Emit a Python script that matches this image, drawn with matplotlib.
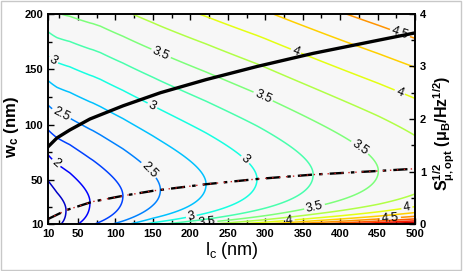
import numpy as np
import matplotlib
matplotlib.use("Agg")
import matplotlib.pyplot as plt
from matplotlib.patches import Rectangle
from matplotlib.colors import Normalize

plt.rcParams['font.family'] = ['Liberation Sans', 'DejaVu Sans']
plt.rcParams['mathtext.fontset'] = 'custom'
plt.rcParams['mathtext.rm'] = 'Liberation Sans'
plt.rcParams['mathtext.bf'] = 'Liberation Sans:bold'
plt.rcParams['mathtext.it'] = 'Liberation Sans:italic'

# optimum curve S_opt^1/2 vs l_c (right axis)
l_s = [10, 22, 39, 66, 110, 160, 221, 289, 364, 451, 500]
s_opt = [1.47, 1.64, 1.79, 2.0, 2.25, 2.5, 2.75, 3.0, 3.25, 3.5, 3.64]

# optimum w_c vs l_c (dash-dot line)
l_w = [10, 35, 70, 110, 150, 221, 289, 364, 451, 500]
w_opt = [14.5, 22.7, 30.3, 35.5, 40, 46, 50.7, 54.7, 58, 60]

# slope of the map above the optimum width, curvature below it (estimated)
l_b = [10, 80, 300, 500]
b_up = [0.0114, 0.0108, 0.0107, 0.0110]
l_k = [10, 50, 150, 300, 500]
k_lo = [0.06, 0.06, 0.12, 0.12, 0.13]

other_levels = [1.75, 2.25, 2.75, 3.25, 3.75, 4.25, 4.75, 5.0, 5.25, 5.5,
                5.75, 6.0, 6.5, 7.0]
label_levels = [2.0, 2.5, 3.0, 3.5, 4.0, 4.5]
label_pos = [(22, 66), (26, 107), (142, 57), (17, 158), (150, 118), (273, 68),
             (201, 18), (162, 166), (297, 125), (424, 77), (366, 25), (222, 12),
             (342, 168), (480, 130), (489, 25), (332, 13), (480, 183), (467, 15)]

lc = np.linspace(10, 500, 500)
wc = np.linspace(10, 200, 400)
L, W = np.meshgrid(lc, wc)
fmin = np.interp(np.sqrt(L), np.sqrt(l_s), s_opt)
wo = np.interp(np.sqrt(L), np.sqrt(l_w), w_opt)
ku = np.interp(L, l_b, b_up) * wo / fmin
kl = np.interp(L, l_k, k_lo)
x = W / wo
F = fmin * (1 + np.where(x > 1, ku, kl) * (x - 1) ** 2 / x)

fig = plt.figure(figsize=(4.63, 2.71), dpi=100)
ax = fig.add_axes([0.1037, 0.1734, 0.7927, 0.775])
ax.set_facecolor('#f7f7f7')

norm = Normalize(1.5, 5.5)
ax.contour(L, W, F, levels=other_levels, cmap='jet', norm=norm, linewidths=1.1)
cs = ax.contour(L, W, F, levels=label_levels, cmap='jet', norm=norm, linewidths=1.1)
ax.clabel(cs, manual=label_pos, inline=True, inline_spacing=2, fontsize=9,
          colors='k', fmt='%g')

ax.plot(l_w, w_opt, color='k', lw=1.7, dashes=(6, 3, 1.5, 3))
ax.plot(l_w, w_opt, color='#cc2020', lw=1.0, ls=(0, (1, 4)))

ax.set_xlim(10, 500)
ax.set_ylim(10, 200)
ax.set_xticks([10, 50, 100, 150, 200, 250, 300, 350, 400, 450, 500])
ax.set_xticks(np.arange(25, 500, 25), minor=True)
ax.set_yticks([10, 50, 100, 150, 200])
ax.set_yticks([25, 75, 125, 175], minor=True)
ax.tick_params(which='both', direction='in', top=True, right=False,
               labelsize=8, width=1)
ax.tick_params(which='major', length=4)
ax.tick_params(which='minor', length=3)
for t in ax.get_xticklabels() + ax.get_yticklabels():
    t.set_fontweight('bold')
ax.set_xlabel(r'l$_\mathregular{c}$ (nm)', fontsize=13, labelpad=1)
ax.set_ylabel(r'$\mathbf{w_c}$ (nm)', fontsize=12, fontweight='bold')
ax.yaxis.set_label_coords(-0.073, 0.46)

ax2 = ax.twinx()
ax2.plot(l_s, s_opt, color='k', lw=2.4)
ax2.set_ylim(0, 4)
ax2.set_yticks([0, 1, 2, 3, 4])
ax2.set_yticks([0.5, 1.5, 2.5, 3.5], minor=True)
ax2.tick_params(which='both', direction='in', labelsize=8, width=1)
ax2.tick_params(which='major', length=4)
ax2.tick_params(which='minor', length=3)
for t in ax2.get_yticklabels():
    t.set_fontweight('bold')
ax2.set_ylabel(r'$\mathbf{S}_{\mathbf{\mu,opt}}^{\mathbf{1/2}}\ \mathbf{(\mu_B/Hz^{1/2})}$',
               fontsize=11.5)
ax2.yaxis.set_label_coords(1.046, 0.43)
for a in (ax, ax2):
    for s in a.spines.values():
        s.set_linewidth(1.2)

fig.patches.append(Rectangle((0.002, 0.005), 0.994, 0.99, transform=fig.transFigure,
                             fill=False, ec='#c8c8c8', lw=1))

fig.savefig('out.png', dpi=100)
